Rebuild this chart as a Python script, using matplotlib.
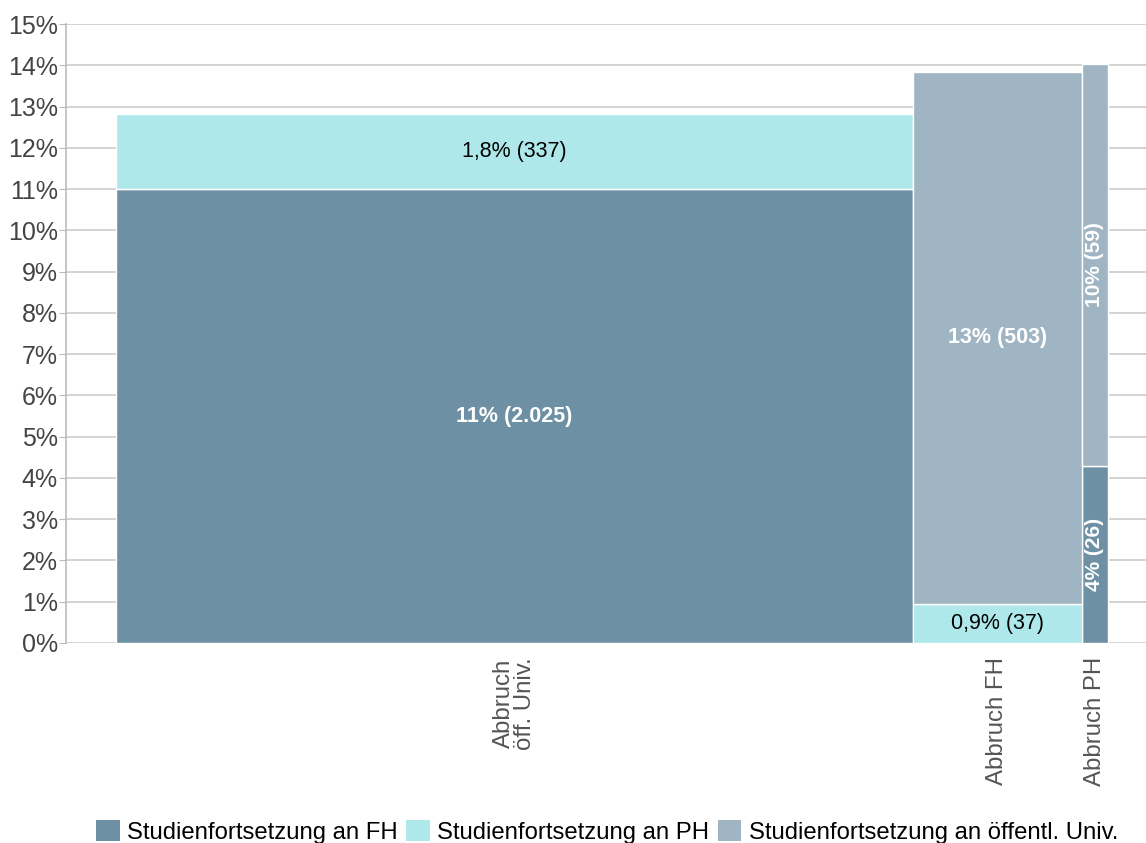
import matplotlib
matplotlib.use("Agg")
import matplotlib.pyplot as plt
from matplotlib.patches import Patch

plt.rcParams['font.family'] = ['Liberation Sans', 'DejaVu Sans']

categories = ["Abbruch\nöff. Univ.", "Abbruch FH", "Abbruch PH"]
group_size = [18409, 3899, 605]          # column widths (number of dropouts)
series_names = ["Studienfortsetzung an FH", "Studienfortsetzung an PH",
                "Studienfortsetzung an öffentl. Univ."]
share_fh = [11.0, 0.0, 4.29]
share_ph = [1.82, 0.945, 0.0]
share_univ = [0.0, 12.9, 9.74]
label_fh = ["11% (2.025)", "", "4% (26)"]
label_ph = ["1,8% (337)", "0,9% (37)", ""]
label_univ = ["", "13% (503)", "10% (59)"]

colors = ["#6d90a4", "#aee8ea", "#a0b5c3"]

fig = plt.figure(figsize=(11.46, 8.43), dpi=100)
ax = fig.add_axes([66/1146, 1-643/843, 1-66/1146, 619/843])

total = sum(group_size)
px = total / 992.0
ax.set_xlim(-50*px, total + 38*px)
ax.set_ylim(0, 15)

lefts = []
acc = 0
for w in group_size:
    lefts.append(acc)
    acc += w
centers = [l + w/2 for l, w in zip(lefts, group_size)]

series = [share_fh, share_ph, share_univ]
labels = [label_fh, label_ph, label_univ]
bottoms = [0.0]*len(categories)
for si, (vals, labs) in enumerate(zip(series, labels)):
    for i in range(len(categories)):
        v = vals[i]
        if v <= 0:
            continue
        ax.bar(lefts[i], v, width=group_size[i], bottom=bottoms[i], align='edge',
               color=colors[si], edgecolor='white', linewidth=1, zorder=3)
        lab = labs[i]
        if lab:
            yc = bottoms[i] + v/2
            if group_size[i] < 1500:
                ax.text(centers[i], yc, lab, rotation=90, ha='center', va='center',
                        color='white', fontsize=15, fontweight='bold', zorder=4)
            elif si == 1:
                ax.text(centers[i], yc, lab, ha='center', va='center',
                        color='black', fontsize=15.5, zorder=4)
            else:
                ax.text(centers[i], yc, lab, ha='center', va='center',
                        color='white', fontsize=15.5, fontweight='bold', zorder=4)
        bottoms[i] += v

ax.set_yticks(range(0, 16))
ax.set_yticklabels([f"{t}%" for t in range(0, 16)])
ax.yaxis.grid(True, color='#cccccc', linewidth=1.2, zorder=0)
ax.set_axisbelow(True)
ax.set_xticks(centers)
ax.set_xticklabels(categories, rotation=90, ha='center', va='top', fontsize=17.3,
                   color='#555555', linespacing=0.9)
ax.tick_params(axis='x', length=0, pad=10)
ax.tick_params(axis='y', length=5, color='#bbbbbb', labelsize=18,
               labelcolor='#444444', pad=1)
for s in ['top', 'right', 'bottom']:
    ax.spines[s].set_visible(False)
ax.spines['left'].set_color('#bbbbbb')
ax.spines['left'].set_linewidth(1.2)

handles = [Patch(facecolor=c, edgecolor='none') for c in colors]
fig.legend(handles, series_names, loc='center', bbox_to_anchor=(607/1146, 1-832/843),
           ncol=3, frameon=False, fontsize=17.2, handlelength=1.0, handleheight=1.0,
           handletextpad=0.3, columnspacing=0.35, borderpad=0)

fig.savefig("out.png", dpi=100)
